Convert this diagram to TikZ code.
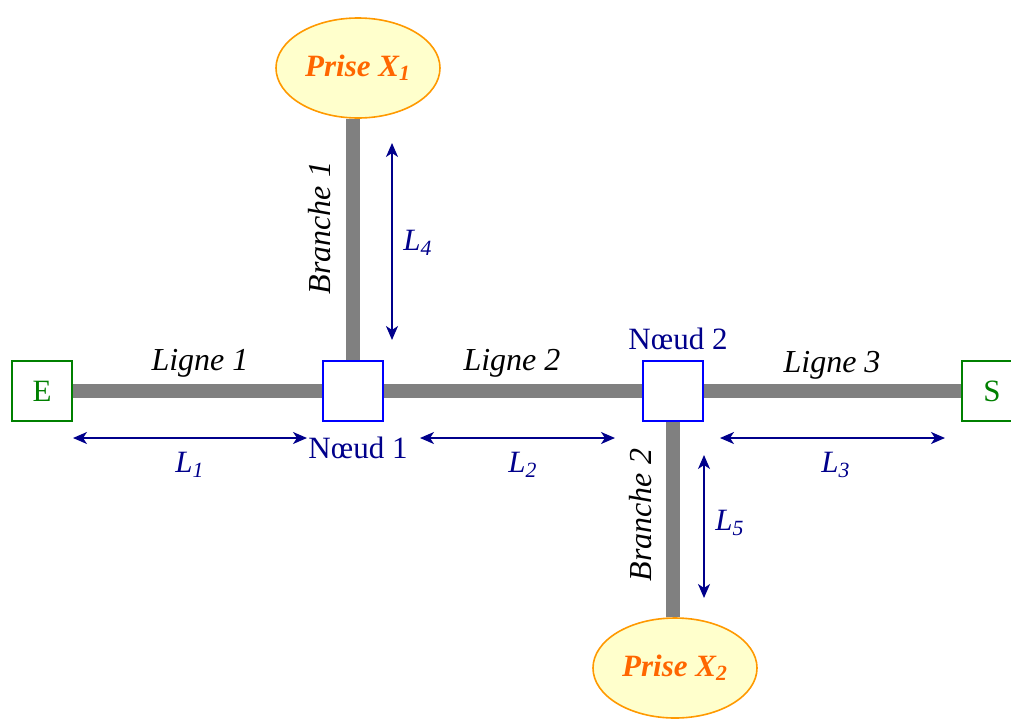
\documentclass[tikz,border=0pt]{standalone}
\usepackage{fontspec}
\setmainfont{Liberation Serif}
\usetikzlibrary{arrows.meta,shapes.geometric}
\definecolor{navy}{RGB}{0,0,139}
\definecolor{dgreen}{RGB}{0,128,0}
\definecolor{prisetext}{RGB}{255,102,0}
\definecolor{prisefill}{RGB}{255,255,204}
\definecolor{priseedge}{RGB}{255,153,0}
\begin{document}
\begin{tikzpicture}[x=0.5pt,y=-0.5pt,
  font=\fontsize{15.5}{18}\selectfont,
  cable/.style={draw=gray,line width=7pt},
  endbox/.style={draw=dgreen,line width=0.8pt,fill=white,minimum size=30pt,inner sep=0pt,text=dgreen},
  nodebox/.style={draw=blue,line width=0.8pt,fill=white,minimum size=30pt,inner sep=0pt},
  prise/.style={ellipse,draw=priseedge,line width=0.8pt,fill=prisefill,minimum width=82pt,minimum height=50pt,inner sep=0pt,text=prisetext,font=\fontsize{15.5}{18}\selectfont\bfseries\itshape},
  dim/.style={draw=navy,line width=0.9pt,{Stealth[length=7pt,width=6pt,inset=2pt]}-{Stealth[length=7pt,width=6pt,inset=2pt]}},
  dimlabel/.style={text=navy,font=\fontsize{15.5}{18}\selectfont\itshape},
  nlabel/.style={text=navy},
  llabel/.style={font=\fontsize{16}{18}\selectfont\itshape}]
\useasboundingbox (0,0) rectangle (1011,718);
\node[endbox] (E) at (42,391) {E};
\node[endbox] (S) at (992,391) {S};
\node[nodebox] (N1) at (353,391) {};
\node[nodebox] (N2) at (673,391) {};
\node[prise] (P1) at (358,68) {Prise X\textsubscript{1}};
\node[prise] (P2) at (675,668) {Prise X\textsubscript{2}};
\draw[cable] (E.east) -- (N1.west);
\draw[cable] (N1.east) -- (N2.west);
\draw[cable] (N2.east) -- (S.west);
\draw[cable] (P1.south -| N1.north) -- (N1.north);
\draw[cable] (N2.south) -- (N2.south |- P2.north);
% labels
\node[llabel] (l1) at (200,363) {Ligne 1};
\node[llabel] (l2) at (512,363) {Ligne 2};
\node[llabel] (l3) at (832,365) {Ligne 3};
\node[llabel,rotate=90] (b1) at (320,228) {Branche 1};
\node[llabel,rotate=90] (b2) at (641,515) {Branche 2};
\node[nlabel] (n1l) at (358,448) {Nœud 1};
\node[nlabel] (n2l) at (678,339) {Nœud 2};
% dimension lines
\coordinate (a1) at (73,438); \coordinate (b1e) at (307,438);
\coordinate (a2) at (420,438); \coordinate (b2e) at (615,438);
\coordinate (a3) at (720,438); \coordinate (b3e) at (945,438);
\coordinate (a4) at (392,143); \coordinate (b4e) at (392,340);
\coordinate (a5) at (704,455); \coordinate (b5e) at (704,598);
\draw[dim] (a1) -- (b1e);
\draw[dim] (a2) -- (b2e);
\draw[dim] (a3) -- (b3e);
\draw[dim] (a4) -- (b4e);
\draw[dim] (a5) -- (b5e);
\node[dimlabel] (L1) at (190,465) {L\textsubscript{1}};
\node[dimlabel] (L2) at (523,465) {L\textsubscript{2}};
\node[dimlabel] (L3) at (836,465) {L\textsubscript{3}};
\node[dimlabel] (L4) at (418,243) {L\textsubscript{4}};
\node[dimlabel] (L5) at (730,523) {L\textsubscript{5}};
\end{tikzpicture}
\end{document}
